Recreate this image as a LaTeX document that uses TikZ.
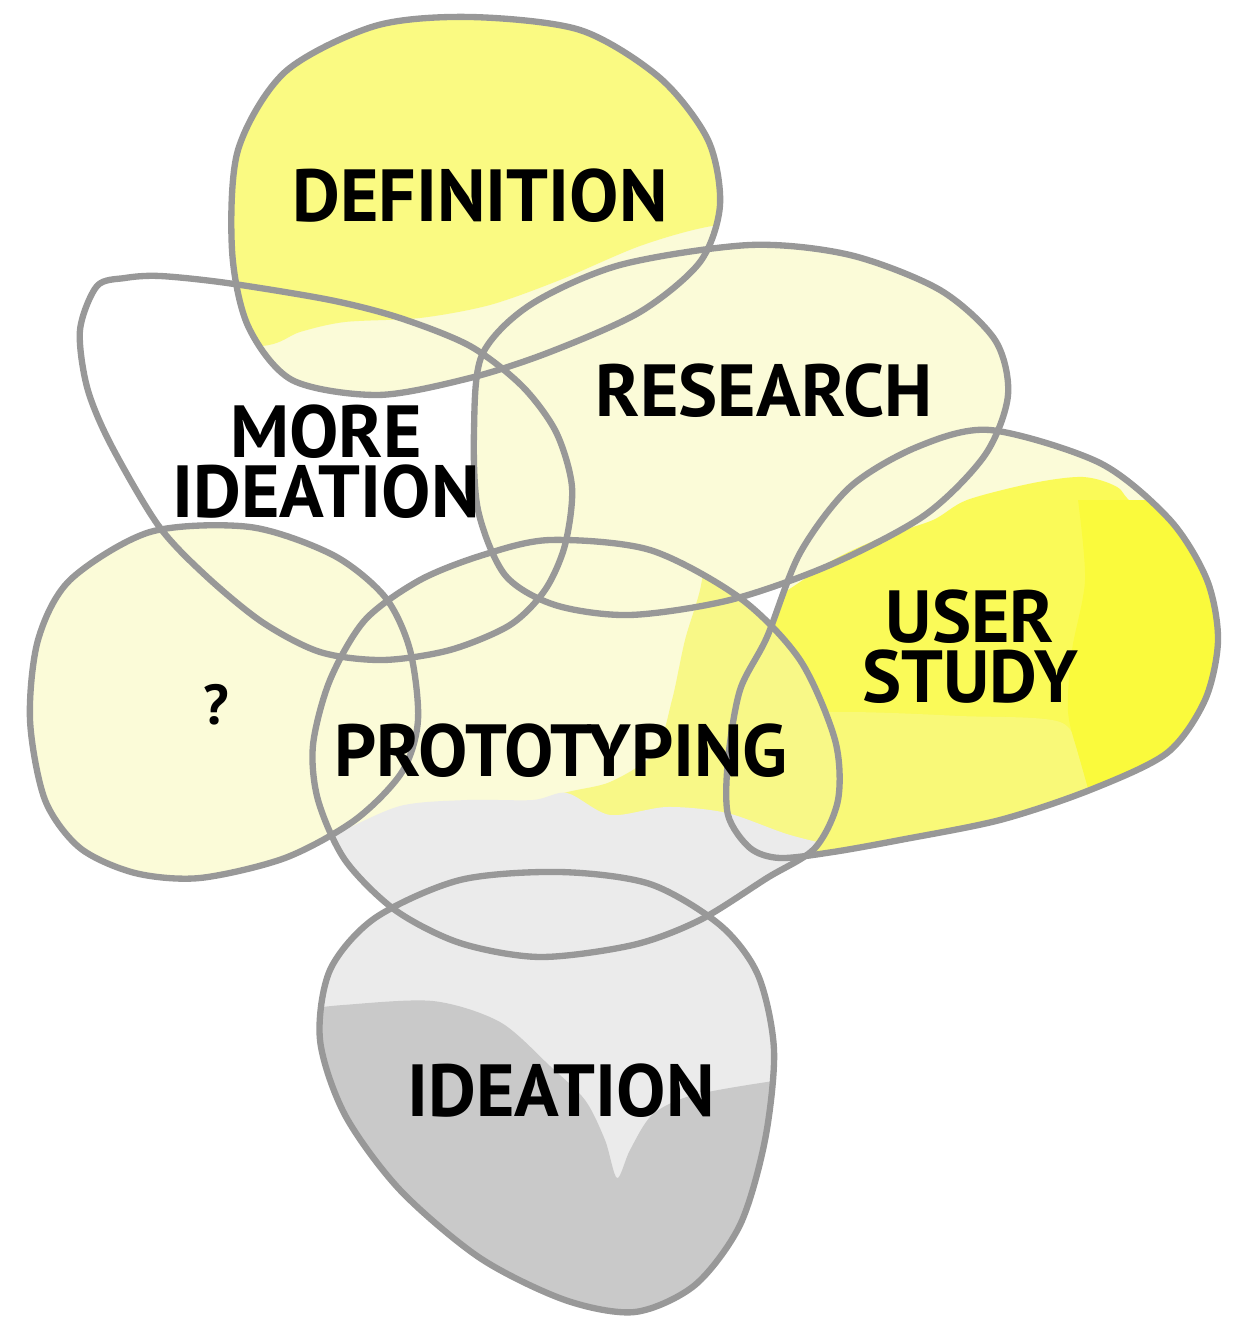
\documentclass[tikz,border=0pt]{standalone}
\usepackage{fontspec}
\setmainfont{PT Sans}
\usepackage{tikz}
\definecolor{pale}{RGB}{251,251,216}
\definecolor{defyellow}{RGB}{250,250,130}
\definecolor{useryellow}{RGB}{250,250,88}
\definecolor{userlight}{RGB}{249,249,120}
\definecolor{userstrip}{RGB}{250,250,60}
\definecolor{protoyellow}{RGB}{248,248,135}
\definecolor{lightgrey}{RGB}{235,235,235}
\definecolor{darkgrey}{RGB}{201,201,201}
\definecolor{rimgray}{RGB}{152,152,152}
\def\defblob{plot[smooth cycle] coordinates {(470,17) (580,30) (660,78) (708,140) (720,205) (700,262) (640,312) (550,352) (470,378) (378,395) (292,380) (248,326) (232,250) (238,150) (285,72) (375,26)}}
\def\moreblob{plot[smooth cycle] coordinates {(97,286) (125,278) (160,276) (227,283) (330,300) (400,318) (470,346) (522,386) (556,432) (572,487) (565,545) (545,590) (510,625) (450,650) (383,660) (320,652) (262,622) (205,575) (158,525) (110,443) (87,387) (80,330)}}
\def\resblob{plot[smooth cycle] coordinates {(750,245) (850,255) (940,290) (995,340) (1008,395) (985,455) (925,515) (830,565) (730,600) (630,615) (555,605) (505,575) (478,510) (474,430) (482,355) (530,305) (620,265)}}
\def\askblob{plot[smooth cycle] coordinates {(150,532) (250,527) (333,555) (385,597) (410,650) (418,720) (402,772) (355,820) (285,858) (200,878) (135,873) (80,848) (45,800) (30,720) (38,640) (70,580)}}
\def\userblob{plot[smooth cycle] coordinates {(990,430) (1100,463) (1170,520) (1207,580) (1218,640) (1205,700) (1167,753) (1090,790) (1000,820) (900,840) (833,852) (780,858) (750,848) (728,815) (728,760) (740,690) (767,637) (800,553) (850,487) (917,447)}}
\def\protoblob{plot[smooth cycle] coordinates {(550,540) (650,550) (740,598) (800,660) (835,740) (838,800) (815,848) (767,878) (700,920) (633,945) (540,957) (460,943) (395,910) (345,860) (318,800) (313,745) (330,680) (365,620) (420,580) (483,555)}}
\def\ideablob{plot[smooth cycle] coordinates {(560,872) (650,884) (720,925) (758,975) (774,1050) (765,1140) (740,1225) (695,1285) (635,1312) (565,1300) (480,1258) (400,1190) (345,1115) (320,1040) (330,970) (375,918) (460,880)}}

\begin{document}
\begin{tikzpicture}[x=0.01cm, y=-0.01cm,
	rim/.style={draw=rimgray, line width=1.8pt},
	stagetext/.style={font=\fontsize{21}{17}\selectfont\bfseries, align=center, inner sep=0pt}]
			%%%%% START %%%%%
			
			\useasboundingbox (0,0) rectangle (1237,1319);
			
			\fill[pale] \resblob;
			
			\fill[pale] \defblob;
			\begin{scope}
				\clip \defblob;
				\fill[defyellow] plot[smooth] coordinates {(800,218) (712,226) (640,246) (560,280) (490,305) (420,318) (345,322) (300,332) (262,346) (150,346)} -- (150,-10) -- (800,-10) -- cycle;
			\end{scope}
			
			\fill[pale] \askblob;
			
			\fill[pale] \userblob;
			\begin{scope}
				\clip \userblob;
				\fill[useryellow] plot[smooth] coordinates {(700,640) (783,593) (833,560) (883,537) (933,520) (967,500) (1033,483) (1083,477) (1117,487) (1140,510) (1260,600)} -- (1260,900) -- (700,900) -- cycle;
				\fill[userlight] plot[smooth] coordinates {(700,715) (847,712) (960,716) (1060,722) (1080,760) (1100,830)} -- (700,900) -- cycle;
				\fill[userstrip] plot[smooth] coordinates {(1078,500) (1085,580) (1072,650) (1068,712) (1080,760) (1100,830)} -- (1260,830) -- (1260,500) -- cycle;
			\end{scope}
			
			\fill[pale] \protoblob;
			\begin{scope}
				\clip \protoblob;
				\fill[protoyellow] plot[smooth] coordinates {(708,540) (700,590) (685,640) (672,700) (655,752) (610,782) (555,796) (500,830)} -- (900,900) -- (900,540) -- cycle;
				\fill[lightgrey] plot[smooth] coordinates {(290,848) (335,834) (400,806) (467,800) (533,800) (567,793) (610,815) (667,807) (727,813) (790,835) (860,852)} -- (860,1000) -- (290,1000) -- cycle;
			\end{scope}
			
			\fill[lightgrey] \ideablob;
			\begin{scope}
				\clip \ideablob;
				\fill[darkgrey] plot[smooth] coordinates {(300,1010) (343,1005) (433,1001) (500,1022) (550,1066) (585,1100) (605,1140) (617,1178) (630,1150) (652,1115) (690,1096) (767,1082) (800,1080)} -- (800,1350) -- (300,1350) -- cycle;
			\end{scope}
			
			\draw[rim] \defblob;
			\draw[rim] \moreblob;
			\draw[rim] \resblob;
			\draw[rim] \askblob;
			\draw[rim] \userblob;
			\draw[rim] \protoblob;
			\draw[rim] \ideablob;
			
			\node[stagetext] (definition) at (480,196) {DEFINITION};
			\node[stagetext] (research) at (764,391) {RESEARCH};
			\node[stagetext] (moreideation) at (326,462) {MORE\\IDEATION};
			\node[stagetext] (userstudy) at (970,647) {USER\\STUDY};
			\node[stagetext, font=\fontsize{16}{18}\selectfont\bfseries] (unknown) at (216,705) {?};
			\node[stagetext] (prototyping) at (561,751) {PROTOTYPING};
			\node[stagetext] (ideation) at (561,1091) {IDEATION};
			
			%%%%% END %%%%%
\end{tikzpicture}
\end{document}
